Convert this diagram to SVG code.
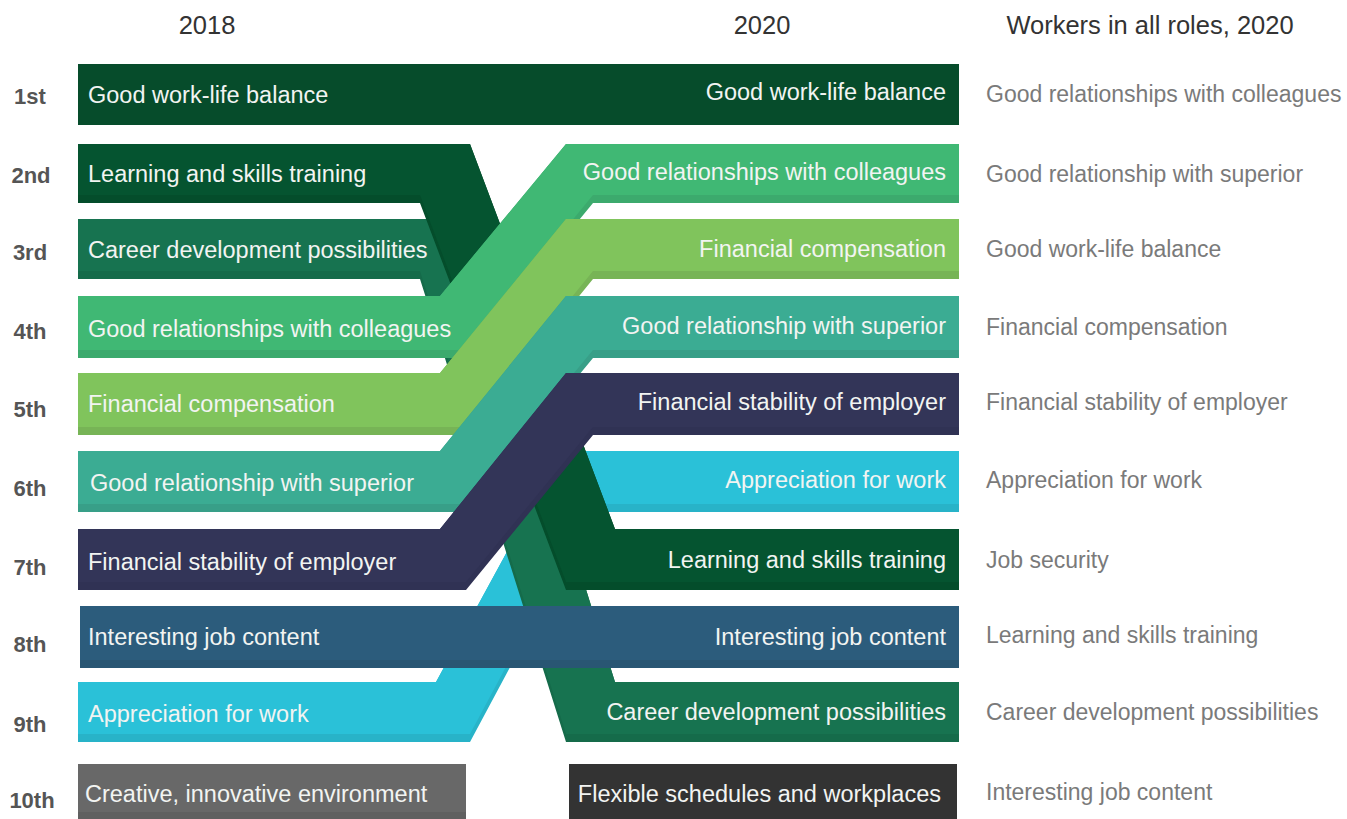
<svg xmlns="http://www.w3.org/2000/svg" width="1347" height="819" viewBox="0 0 1347 819">
<style>
text{font-family:"Liberation Sans",Arial,sans-serif}
.bt{font-size:23.5px;fill:#f2f4f2}
.e{text-anchor:end}
.rc{font-size:23px;fill:#7a7a7a}
.rk{font-size:22px;font-weight:bold;fill:#555;text-anchor:middle}
.hd{font-size:25.5px;fill:#333;text-anchor:middle}
</style>
<rect width="1347" height="819" fill="#fff"/>
<g id="headers">
<text class="hd" x="207" y="34">2018</text>
<text class="hd" x="762" y="34">2020</text>
<text class="hd" x="1150" y="34">Workers in all roles, 2020</text>
</g>
<g id="ranks">
<text class="rk" x="30" y="104">1st</text>
<text class="rk" x="31" y="183">2nd</text>
<text class="rk" x="30" y="260">3rd</text>
<text class="rk" x="30" y="339">4th</text>
<text class="rk" x="30" y="417">5th</text>
<text class="rk" x="30" y="496">6th</text>
<text class="rk" x="30" y="575">7th</text>
<text class="rk" x="30" y="652">8th</text>
<text class="rk" x="30" y="732">9th</text>
<text class="rk" x="32" y="808">10th</text>
</g>
<g id="connectors">
<g id="band-appreciation">
<polygon fill="#28b3c8" points="78,682 436,682 562,451 959,451 959,512 593,512 470,742 78,742"/>
<polygon fill="#2ac1d8" points="78,682 436,682 562,451 959,451 959,504 593,504 470,734 78,734"/>
</g>
<g id="band-career">
<polygon fill="#156b4a" points="78,219 470,219 615,682 959,682 959,742 566,742 420,279 78,279"/>
<polygon fill="#177350" points="78,219 470,219 615,682 959,682 959,734 566,734 420,271 78,271"/>
</g>
<g id="band-learning">
<polygon fill="#044d2b" points="78,144 470,144 615,529 959,529 959,590 566,590 420,203 78,203"/>
<polygon fill="#055430" points="78,144 470,144 615,529 959,529 959,582 566,582 420,195 78,195"/>
</g>
<g id="band-colleagues">
<polygon fill="#3caa6d" points="78,296 440,296 566,144 959,144 959,203 593,203 466,358 78,358"/>
<polygon fill="#40b874" points="78,296 440,296 566,144 959,144 959,195 593,195 466,350 78,350"/>
</g>
<g id="band-compensation">
<polygon fill="#77b456" points="78,373 440,373 566,219 959,219 959,279 593,279 466,435 78,435"/>
<polygon fill="#80c45c" points="78,373 440,373 566,219 959,219 959,271 593,271 466,427 78,427"/>
</g>
<g id="band-superior">
<polygon fill="#389f88" points="78,451 440,451 566,296 959,296 959,358 593,358 466,512 78,512"/>
<polygon fill="#3bac93" points="78,451 440,451 566,296 959,296 959,350 593,350 466,504 78,504"/>
</g>
<g id="band-stability">
<polygon fill="#303254" points="78,529 440,529 566,373 959,373 959,435 593,435 466,590 78,590"/>
<polygon fill="#333558" points="78,529 440,529 566,373 959,373 959,427 593,427 466,582 78,582"/>
</g>
</g>
<g id="node-interesting">
<rect x="80" y="606" width="879" height="62" fill="#295673"/>
<rect x="80" y="606" width="879" height="54" fill="#2c5c7c"/>
</g>
<g id="node-worklife">
<rect x="78" y="64" width="881" height="61" fill="#064c2b"/>
</g>
<g id="node-creative">
<rect x="78" y="764" width="388" height="55" fill="#606060"/>
<rect x="78" y="764" width="388" height="48" fill="#686868"/>
</g>
<g id="node-flexible">
<rect x="569" y="764" width="388" height="55" fill="#333333"/>
</g>
<g id="labels-2018">
<text class="bt" x="88" y="103">Good work-life balance</text>
<text class="bt" x="88" y="182">Learning and skills training</text>
<text class="bt" x="88" y="258">Career development possibilities</text>
<text class="bt" x="88" y="337">Good relationships with colleagues</text>
<text class="bt" x="88" y="412">Financial compensation</text>
<text class="bt" x="90" y="491">Good relationship with superior</text>
<text class="bt" x="88" y="570">Financial stability of employer</text>
<text class="bt" x="88" y="645">Interesting job content</text>
<text class="bt" x="88" y="722">Appreciation for work</text>
<text class="bt" x="85" y="802">Creative, innovative environment</text>
</g>
<g id="labels-2020">
<text class="bt e" x="946" y="100">Good work-life balance</text>
<text class="bt e" x="946" y="180">Good relationships with colleagues</text>
<text class="bt e" x="946" y="257">Financial compensation</text>
<text class="bt e" x="946" y="334">Good relationship with superior</text>
<text class="bt e" x="946" y="410">Financial stability of employer</text>
<text class="bt e" x="946" y="488">Appreciation for work</text>
<text class="bt e" x="946" y="568">Learning and skills training</text>
<text class="bt e" x="946" y="645">Interesting job content</text>
<text class="bt e" x="946" y="720">Career development possibilities</text>
<text class="bt e" x="941" y="802">Flexible schedules and workplaces</text>
</g>
<g id="labels-all-roles">
<text class="rc" x="986" y="102">Good relationships with colleagues</text>
<text class="rc" x="986" y="182">Good relationship with superior</text>
<text class="rc" x="986" y="257">Good work-life balance</text>
<text class="rc" x="986" y="335">Financial compensation</text>
<text class="rc" x="986" y="410">Financial stability of employer</text>
<text class="rc" x="986" y="488">Appreciation for work</text>
<text class="rc" x="986" y="568">Job security</text>
<text class="rc" x="986" y="643">Learning and skills training</text>
<text class="rc" x="986" y="720">Career development possibilities</text>
<text class="rc" x="986" y="800">Interesting job content</text>
</g>
</svg>
